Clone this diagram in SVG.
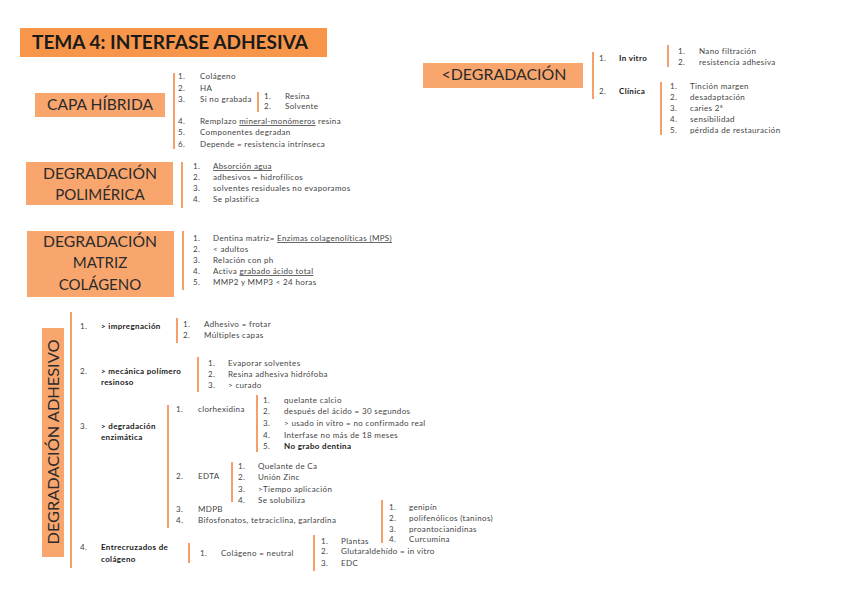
<svg xmlns="http://www.w3.org/2000/svg" width="848" height="599" viewBox="0 0 848 599">
<style>
.bg{fill:#ffffff}
.title{fill:#F7964A}
.box{fill:#F9A66E}
.hd{font-family:Lato,"Open Sans","DejaVu Sans",sans-serif;font-size:15px;fill:#2b2b2b;text-anchor:middle}
.tt{font-family:Lato,"Open Sans","DejaVu Sans",sans-serif;font-size:18px;font-weight:bold;fill:#1a1a1a}
.t{font-family:Lato,"Open Sans","DejaVu Sans",sans-serif;font-size:8px;letter-spacing:0.35px;fill:#444444}
.b{font-weight:bold;fill:#1a1a1a}
.u{text-decoration:underline}
.bar{stroke:#F5A068;stroke-width:2;fill:none}
</style>
<rect class="bg" x="0" y="0" width="848" height="599"/>

<g id="title">
<rect class="title" x="20" y="28" width="307" height="29"/>
<text class="tt" x="32" y="49" textLength="276" lengthAdjust="spacingAndGlyphs">TEMA 4: INTERFASE ADHESIVA</text>
</g>

<g id="capa-hibrida">
<rect class="box" x="35" y="93" width="130" height="24"/>
<text class="hd" x="100" y="110" textLength="106" lengthAdjust="spacingAndGlyphs">CAPA HÍBRIDA</text>
</g>

<g id="degradacion">
<rect class="box" x="423" y="63" width="160" height="25"/>
<text class="hd" x="504" y="80" textLength="125" lengthAdjust="spacingAndGlyphs">&lt;DEGRADACIÓN</text>
</g>

<g id="degradacion-polimerica">
<rect class="box" x="26" y="162" width="147" height="43"/>
<text class="hd" x="100" y="179" textLength="114" lengthAdjust="spacingAndGlyphs">DEGRADACIÓN</text>
<text class="hd" x="100" y="200">POLIMÉRICA</text>
</g>

<g id="degradacion-matriz">
<rect class="box" x="27" y="231" width="147" height="66"/>
<text class="hd" x="100" y="247" textLength="114" lengthAdjust="spacingAndGlyphs">DEGRADACIÓN</text>
<text class="hd" x="100" y="268">MATRIZ</text>
<text class="hd" x="100" y="290">COLÁGENO</text>
</g>

<g id="degradacion-adhesivo">
<rect class="box" x="42" y="328" width="22" height="229"/>
<text class="hd" transform="translate(58.5 442) rotate(-90)" x="0" y="0" textLength="205" lengthAdjust="spacingAndGlyphs">DEGRADACIÓN ADHESIVO</text>
</g>

<g id="connectors">
<line class="bar" x1="174" y1="73" x2="174" y2="149"/>
<line class="bar" x1="258" y1="92" x2="258" y2="112"/>
<line class="bar" x1="593" y1="52" x2="593" y2="99"/>
<line class="bar" x1="668" y1="45" x2="668" y2="67"/>
<line class="bar" x1="661" y1="82" x2="661" y2="135"/>
<line class="bar" x1="182" y1="162" x2="182" y2="208"/>
<line class="bar" x1="183" y1="231" x2="183" y2="290"/>
<line class="bar" x1="71" y1="312" x2="71" y2="568"/>
<line class="bar" x1="177" y1="318" x2="177" y2="343"/>
<line class="bar" x1="198" y1="357" x2="198" y2="392"/>
<line class="bar" x1="168" y1="405" x2="168" y2="528"/>
<line class="bar" x1="257" y1="395" x2="257" y2="452"/>
<line class="bar" x1="232" y1="462" x2="232" y2="502"/>
<line class="bar" x1="189" y1="543" x2="189" y2="563"/>
<line class="bar" x1="314" y1="535" x2="314" y2="571"/>
<line class="bar" x1="382" y1="500" x2="382" y2="543"/>
</g>

<g id="capa-list">
<text class="t" x="178" y="79">1.</text><text class="t" x="200" y="79">Colágeno</text>
<text class="t" x="178" y="91">2.</text><text class="t" x="200" y="91">HA</text>
<text class="t" x="178" y="102">3.</text><text class="t" x="200" y="102">Si no grabada</text>
<text class="t" x="264" y="99">1.</text><text class="t" x="285" y="99">Resina</text>
<text class="t" x="264" y="109">2.</text><text class="t" x="285" y="109">Solvente</text>
<text class="t" x="178" y="124">4.</text><text class="t" x="200" y="124">Remplazo <tspan class="u">mineral-monómeros</tspan> resina</text>
<text class="t" x="178" y="135">5.</text><text class="t" x="200" y="135">Componentes degradan</text>
<text class="t" x="178" y="147">6.</text><text class="t" x="200" y="147">Depende = resistencia intrínseca</text>
</g>

<g id="degradacion-list">
<text class="t" x="599" y="61">1.</text><text class="t b" x="619" y="61">In vitro</text>
<text class="t" x="599" y="94">2.</text><text class="t b" x="619" y="94">Clínica</text>
<text class="t" x="678" y="54">1.</text><text class="t" x="699" y="54">Nano filtración</text>
<text class="t" x="678" y="65">2.</text><text class="t" x="699" y="65">resistencia adhesiva</text>
<text class="t" x="670" y="89">1.</text><text class="t" x="690" y="89">Tinción margen</text>
<text class="t" x="670" y="100">2.</text><text class="t" x="690" y="100">desadaptación</text>
<text class="t" x="670" y="111">3.</text><text class="t" x="690" y="111">caries 2ª</text>
<text class="t" x="670" y="122">4.</text><text class="t" x="690" y="122">sensibilidad</text>
<text class="t" x="670" y="133">5.</text><text class="t" x="690" y="133">pérdida de restauración</text>
</g>

<g id="polimerica-list">
<text class="t" x="193" y="169">1.</text><text class="t u" x="213" y="169">Absorción agua</text>
<text class="t" x="193" y="180">2.</text><text class="t" x="213" y="180">adhesivos = hidrofílicos</text>
<text class="t" x="193" y="191">3.</text><text class="t" x="213" y="191">solventes residuales no evaporamos</text>
<text class="t" x="193" y="202">4.</text><text class="t" x="213" y="202">Se plastifica</text>
</g>

<g id="matriz-list">
<text class="t" x="193" y="241">1.</text><text class="t" x="213" y="241">Dentina matriz= <tspan class="u">Enzimas colagenolíticas (MPS)</tspan></text>
<text class="t" x="193" y="252">2.</text><text class="t" x="213" y="252">&lt; adultos</text>
<text class="t" x="193" y="263">3.</text><text class="t" x="213" y="263">Relación con ph</text>
<text class="t" x="193" y="274">4.</text><text class="t" x="213" y="274">Activa <tspan class="u">grabado ácido total</tspan></text>
<text class="t" x="193" y="285">5.</text><text class="t" x="213" y="285">MMP2 y MMP3 &lt; 24 horas</text>
</g>

<g id="adhesivo-list">
<text class="t" x="80" y="329">1.</text><text class="t b" x="101" y="329">&gt; impregnación</text>
<text class="t" x="183" y="327">1.</text><text class="t" x="204" y="327">Adhesivo = frotar</text>
<text class="t" x="183" y="338">2.</text><text class="t" x="204" y="338">Múltiples capas</text>

<text class="t" x="80" y="374">2.</text><text class="t b" x="101" y="374">&gt; mecánica polímero</text>
<text class="t b" x="101" y="385">resinoso</text>
<text class="t" x="208" y="366">1.</text><text class="t" x="228" y="366">Evaporar solventes</text>
<text class="t" x="208" y="377">2.</text><text class="t" x="228" y="377">Resina adhesiva hidrófoba</text>
<text class="t" x="208" y="388">3.</text><text class="t" x="228" y="388">&gt; curado</text>

<text class="t" x="80" y="429">3.</text><text class="t b" x="101" y="429">&gt; degradación</text>
<text class="t b" x="101" y="440">enzimática</text>
<text class="t" x="176" y="412">1.</text><text class="t" x="198" y="412">clorhexidina</text>
<text class="t" x="263" y="403">1.</text><text class="t" x="284" y="403">quelante calcio</text>
<text class="t" x="263" y="414">2.</text><text class="t" x="284" y="414">después del ácido = 30 segundos</text>
<text class="t" x="263" y="426">3.</text><text class="t" x="284" y="426">&gt; usado in vitro = no confirmado real</text>
<text class="t" x="263" y="438">4.</text><text class="t" x="284" y="438">Interfase no más de 18 meses</text>
<text class="t" x="263" y="449">5.</text><text class="t b" x="284" y="449">No grabo dentina</text>
<text class="t" x="176" y="479">2.</text><text class="t" x="198" y="479">EDTA</text>
<text class="t" x="238" y="469">1.</text><text class="t" x="258" y="469">Quelante de Ca</text>
<text class="t" x="238" y="480">2.</text><text class="t" x="258" y="480">Unión Zinc</text>
<text class="t" x="238" y="492">3.</text><text class="t" x="258" y="492">&gt;Tiempo aplicación</text>
<text class="t" x="238" y="503">4.</text><text class="t" x="258" y="503">Se solubiliza</text>
<text class="t" x="176" y="512">3.</text><text class="t" x="198" y="512">MDPB</text>
<text class="t" x="176" y="523">4.</text><text class="t" x="198" y="523">Bifosfonatos, tetraciclina, garlardina</text>

<text class="t" x="80" y="550">4.</text><text class="t b" x="101" y="550">Entrecruzados de</text>
<text class="t b" x="101" y="562">colágeno</text>
<text class="t" x="200" y="556">1.</text><text class="t" x="221" y="556">Colágeno = neutral</text>
<text class="t" x="321" y="544">1.</text><text class="t" x="341" y="544">Plantas</text>
<text class="t" x="321" y="554">2.</text><text class="t" x="341" y="554">Glutaraldehído = in vitro</text>
<text class="t" x="321" y="566">3.</text><text class="t" x="341" y="566">EDC</text>
<text class="t" x="389" y="510">1.</text><text class="t" x="409" y="510">genipín</text>
<text class="t" x="389" y="521">2.</text><text class="t" x="409" y="521">polifenólicos (taninos)</text>
<text class="t" x="389" y="532">3.</text><text class="t" x="409" y="532">proantocianidinas</text>
<text class="t" x="389" y="542">4.</text><text class="t" x="409" y="542">Curcumina</text>
</g>
</svg>
